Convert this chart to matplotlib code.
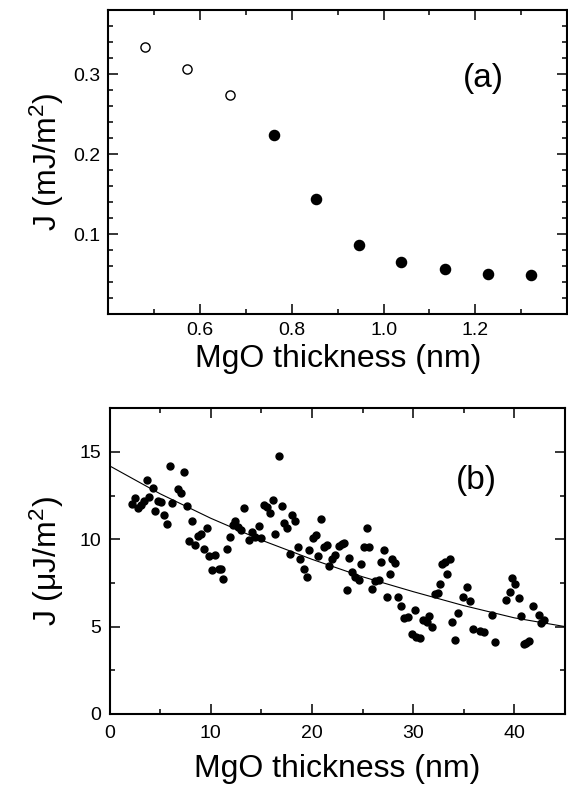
import matplotlib
matplotlib.use("Agg")
import matplotlib.pyplot as plt
from matplotlib.ticker import MultipleLocator

plt.rcParams['font.family'] = ['Liberation Sans', 'DejaVu Sans']
plt.rcParams['mathtext.fontset'] = 'custom'
plt.rcParams['mathtext.rm'] = 'Liberation Sans'
plt.rcParams['mathtext.default'] = 'regular'

# panel (a): thin MgO, J in mJ/m^2
a_open_x = [0.479, 0.572, 0.666]
a_open_y = [0.334, 0.306, 0.274]
a_fill_x = [0.760, 0.853, 0.946, 1.039, 1.133, 1.228, 1.321]
a_fill_y = [0.224, 0.1435, 0.0857, 0.0647, 0.0563, 0.0497, 0.0485]

# panel (b): thick MgO, J in uJ/m^2
b_x = [2.21, 2.54, 2.80, 3.10, 3.40, 3.69, 3.95, 4.25, 4.51, 4.78,
       5.11, 5.34, 5.67, 5.93, 6.20, 6.78, 7.03, 7.36, 7.64, 8.17,
       7.89, 8.43, 8.75, 9.00, 9.32, 9.62, 9.85, 10.44, 10.11, 10.77,
       11.02, 11.26, 11.60, 11.86, 12.20, 12.42, 12.65, 12.95, 13.24, 13.82,
       14.10, 14.36, 14.72, 14.96, 15.22, 15.52, 15.85, 16.11, 16.70, 17.00,
       16.37, 17.19, 17.52, 17.79, 18.05, 18.34, 18.60, 18.85, 19.22, 19.47,
       19.75, 20.10, 20.36, 20.62, 20.90, 21.20, 21.52, 21.73, 21.97, 22.25,
       22.63, 22.93, 23.18, 23.43, 23.70, 23.95, 24.28, 24.61, 24.85, 25.10,
       25.40, 25.65, 25.93, 26.24, 26.58, 26.81, 27.10, 27.37, 27.67, 27.93,
       28.25, 28.48, 28.79, 29.08, 29.45, 29.84, 30.21, 30.25, 30.70, 30.97,
       31.33, 31.57, 31.88, 32.18, 32.50, 32.70, 32.84, 33.10, 33.67, 33.34,
       33.87, 34.16, 34.45, 34.95, 35.34, 35.60, 35.94, 36.60, 36.95, 37.80,
       38.11, 39.22, 39.52, 39.75, 40.09, 40.42, 40.65, 40.91, 41.17, 41.40,
       41.83, 42.39, 42.62, 42.89]
b_y = [12.00, 12.38, 11.77, 11.95, 12.18, 13.36, 12.42, 12.93, 11.62, 12.19,
       12.13, 11.36, 10.87, 14.18, 12.06, 12.86, 12.63, 13.82, 11.90, 11.06,
       9.87, 9.68, 10.18, 10.32, 9.45, 10.67, 9.04, 9.10, 8.22, 8.28,
       8.30, 7.72, 9.44, 10.11, 10.79, 11.07, 10.70, 10.50, 11.81, 9.98,
       10.44, 10.13, 10.74, 10.05, 11.96, 11.83, 11.52, 12.23, 14.79, 11.90,
       10.29, 10.93, 10.66, 9.18, 11.37, 11.07, 9.56, 8.86, 8.29, 7.85,
       9.41, 10.08, 10.25, 9.05, 11.16, 9.55, 9.68, 8.44, 8.84, 9.10,
       9.60, 9.75, 9.81, 7.08, 8.91, 8.10, 7.86, 7.67, 8.60, 9.56,
       10.67, 9.56, 7.14, 7.62, 7.67, 8.72, 9.41, 6.72, 8.03, 8.86,
       8.63, 6.72, 6.15, 5.51, 5.56, 4.59, 5.96, 4.40, 4.36, 5.38,
       5.26, 5.58, 4.98, 6.89, 6.93, 7.46, 8.57, 8.72, 8.84, 8.03,
       5.29, 4.26, 5.78, 6.67, 7.27, 6.45, 4.84, 4.72, 4.70, 5.65,
       4.11, 6.53, 6.98, 7.77, 7.44, 6.62, 5.58, 4.00, 4.05, 4.15,
       6.15, 5.68, 5.23, 5.39]

# fitted curve
fit_x = [0, 5, 10, 15, 20, 25, 30, 35, 40, 45]
fit_y = [14.2, 12.6, 11.2, 9.95, 8.85, 7.85, 7.0, 6.2, 5.5, 5.0]

fig = plt.figure(figsize=(5.68, 7.89), dpi=100)
ax1 = fig.add_axes([0.191, 0.602, 0.8072, 0.3853])
ax2 = fig.add_axes([0.1928, 0.0951, 0.8019, 0.3876])

ax1.plot(a_open_x, a_open_y, 'o', mfc='white', mec='black', ms=6.6, mew=1.0)
ax1.plot(a_fill_x, a_fill_y, 'o', color='black', ms=7.3)
ax1.set_xlim(0.4, 1.4)
ax1.set_ylim(0, 0.38)
ax1.xaxis.set_minor_locator(MultipleLocator(0.1))
ax1.yaxis.set_minor_locator(MultipleLocator(0.02))
ax1.set_xticks([0.6, 0.8, 1.0, 1.2])
ax1.set_xticklabels(['0.6', '0.8', '1.0', '1.2'])
ax1.set_yticks([0.1, 0.2, 0.3])
ax1.set_yticklabels(['0.1', '0.2', '0.3'])
ax1.set_xlabel('MgO thickness (nm)', fontsize=23)
ax1.set_ylabel('J (mJ/m$^2$)', fontsize=23)
ax1.xaxis.set_label_coords(0.5, -0.098)
ax1.yaxis.set_label_coords(-0.093, 0.5)
ax1.text(0.817, 0.776, '(a)', transform=ax1.transAxes, fontsize=24,
         ha='center', va='center')

ax2.plot(b_x, b_y, 'o', color='black', ms=5.0)
ax2.plot(fit_x, fit_y, '-', color='black', lw=0.8)
ax2.set_xlim(0, 45)
ax2.set_ylim(0, 17.5)
ax2.xaxis.set_major_locator(MultipleLocator(10))
ax2.xaxis.set_minor_locator(MultipleLocator(5))
ax2.yaxis.set_major_locator(MultipleLocator(5))
ax2.yaxis.set_minor_locator(MultipleLocator(2.5))
ax2.set_xlabel('MgO thickness (nm)', fontsize=23)
ax2.set_ylabel('J (\u03bcJ/m$^2$)', fontsize=23)
ax2.xaxis.set_label_coords(0.5, -0.13)
ax2.yaxis.set_label_coords(-0.095, 0.5)
ax2.text(0.806, 0.765, '(b)', transform=ax2.transAxes, fontsize=24,
         ha='center', va='center')

for ax in (ax1, ax2):
    ax.tick_params(which='both', direction='in', top=True, right=True,
                   labelsize=14, width=1.1)
    ax.tick_params(which='major', length=7.2)
    ax.tick_params(which='minor', length=3.6)
    ax.tick_params(axis='y', which='both', pad=5.8)
    for s in ax.spines.values():
        s.set_linewidth(1.5)
ax1.tick_params(axis='x', which='both', pad=5.5)
ax2.tick_params(axis='x', which='both', pad=7.9)

fig.savefig('out.png', dpi=100)
